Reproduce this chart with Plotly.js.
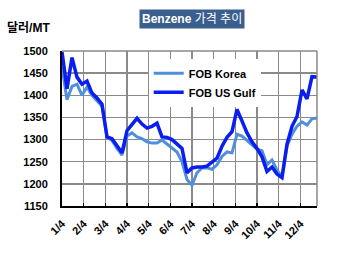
<!DOCTYPE html>
<html>
<head>
<meta charset="utf-8">
<script src="https://cdn.plot.ly/plotly-3.0.1.min.js"></script>
<style>html,body{margin:0;padding:0;background:#fff;}#chart{width:350px;height:255px;}</style>
</head>
<body>
<div id="chart"></div>
<script>
// Weekly observations (week index within the year)
const weeks = [0,1,2,3,4,5,6,7,8,9,10,11,12,13,14,15,16,17,18,19,20,21,22,23,24,25,
  26,27,28,29,30,31,32,33,34,35,36,37,38,39,40,41,42,43,44,45,46,47,48,49,50,51];
const fobKorea = [1464,1390,1420,1425,1400,1419,1400,1388,1375,1306,1298,1280,1265,1308,1315,1306,
  1302,1295,1292,1292,1299,1290,1282,1272,1250,1210,1197,1225,1236,1236,1233,1243,1262,1272,1270,
  1312,1308,1299,1288,1278,1275,1243,1254,1231,1216,1285,1312,1330,1340,1333,1347,1349];
const fobUSGulf = [1498,1415,1485,1441,1425,1432,1405,1394,1380,1306,1302,1285,1270,1320,1335,1348,
  1335,1326,1330,1337,1306,1305,1300,1290,1280,1225,1236,1238,1238,1240,1248,1258,1285,1305,1318,
  1368,1342,1315,1295,1280,1261,1228,1238,1222,1214,1290,1330,1352,1412,1392,1442,1441];
// Month tick labels (month starts on the 4th), positions in weeks
const monthLabels = ['1/4','2/4','3/4','4/4','5/4','6/4','7/4','8/4','9/4','10/4','11/4','12/4'];
const monthTickWeeks = monthLabels.map((_, m) => m * 52 / 12);
const yTicks = [1150,1200,1250,1300,1350,1400,1450,1500];

const fontFam = 'Liberation Sans, Arial, Noto Sans CJK KR, sans-serif';

const traces = [
  {x: weeks, y: fobKorea, name: 'FOB Korea', type: 'scatter', mode: 'lines',
   line: {color: '#4F8FDB', width: 3}},
  {x: weeks, y: fobUSGulf, name: 'FOB US Gulf', type: 'scatter', mode: 'lines',
   line: {color: '#0A1EF0', width: 3.5}}
];

const layout = {
  width: 350, height: 255,
  margin: {l: 62, r: 33, t: 51, b: 49},
  paper_bgcolor: '#fff', plot_bgcolor: '#fff',
  showlegend: true,
  legend: {x: 0.34, y: 0.95, xanchor: 'left', yanchor: 'top', bgcolor: '#fff',
    font: {family: fontFam, size: 11, color: '#000', weight: 700},
    tracegroupgap: 0, itemwidth: 30},
  xaxis: {range: [0, 51], tickmode: 'array', tickvals: monthTickWeeks, ticktext: monthLabels,
    tickangle: -45, ticks: 'inside', ticklen: 3, tickcolor: '#000', tickwidth: 1.5,
    ticklabelstandoff: 5,
    showgrid: true, gridcolor: '#8a8a8a', gridwidth: 1.5,
    showline: true, linecolor: '#000', linewidth: 2, mirror: false, zeroline: false,
    tickfont: {family: fontFam, size: 11, color: '#000', weight: 700}},
  yaxis: {range: [1150, 1500], tickmode: 'array', tickvals: yTicks,
    ticks: '', showgrid: true, gridcolor: '#8a8a8a', gridwidth: 1.5,
    showline: true, linecolor: '#000', linewidth: 2, zeroline: false, ticklabelstandoff: 10,
    tickfont: {family: fontFam, size: 11, color: '#000', weight: 700}},
  shapes: [
    {type: 'line', xref: 'paper', yref: 'paper', x0: 1, x1: 1, y0: 0, y1: 1, line: {color: '#8a8a8a', width: 1.5}},
    {type: 'line', xref: 'paper', yref: 'paper', x0: 0, x1: 1, y0: 1, y1: 1, line: {color: '#8a8a8a', width: 1.5}}
  ],
  annotations: [
    {text: '<b>Benzene</b> 가격 추이', xref: 'paper', yref: 'paper', x: 0.508, y: 1.206,
     xanchor: 'center', yanchor: 'middle', showarrow: false, bgcolor: '#3A5F8E',
     borderpad: 2, font: {family: fontFam, size: 12, color: '#fff'}},
    {text: '<b>달러/MT</b>', xref: 'paper', yref: 'paper', x: -0.225, y: 1.15,
     xanchor: 'left', yanchor: 'middle', showarrow: false,
     font: {family: fontFam, size: 12, color: '#000'}}
  ]
};

Plotly.newPlot('chart', traces, layout, {displayModeBar: false, staticPlot: true});
</script>
</body>
</html>
